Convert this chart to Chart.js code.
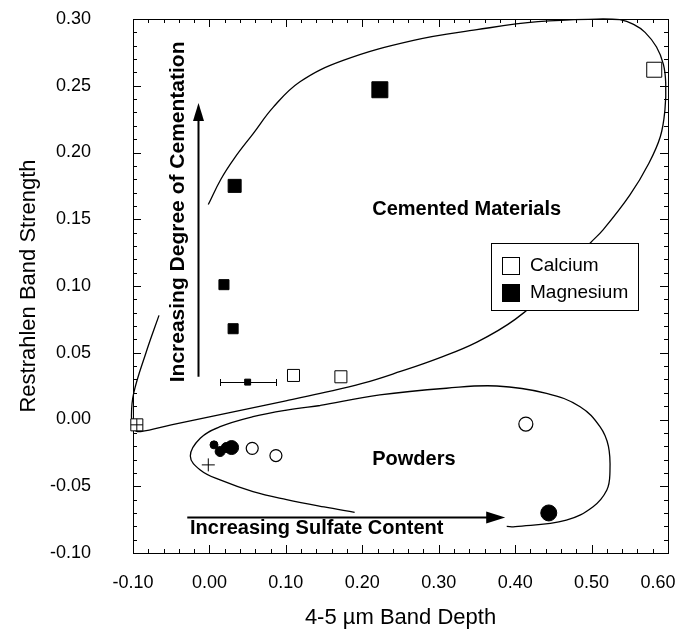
<!DOCTYPE html>
<html>
<head>
<meta charset="utf-8">
<script src="https://cdn.jsdelivr.net/npm/chart.js@4.4.0/dist/chart.umd.min.js"></script>
<style>
  html, body { margin: 0; padding: 0; background: #fff; }
  #wrap { width: 682px; height: 636px; }
</style>
</head>
<body>
<div id="wrap"><canvas id="myChart"></canvas></div>
<script>
var xTicks = [-0.10, 0.00, 0.10, 0.20, 0.30, 0.40, 0.50, 0.60];
var yTicks = [-0.10, -0.05, 0.00, 0.05, 0.10, 0.15, 0.20, 0.25, 0.30];

// cemented samples
var calciumX = [0.582, 0.110, 0.172, -0.095];
var calciumY = [0.262, 0.033, 0.032, -0.004];
var magnesiumX = [0.223, 0.033, 0.019, 0.031, 0.050];
var magnesiumY = [0.247, 0.175, 0.101, 0.068, 0.028];

// error bar on the small magnesium point
var errY = [0.028];
var errLow = [0.014];
var errHigh = [0.087];

// powders
var powderFilledX = [0.006, 0.014, 0.022, 0.029, 0.444];
var powderFilledY = [-0.019, -0.024, -0.021, -0.021, -0.070];
var powderOpenX = [0.056, 0.087, 0.414];
var powderOpenY = [-0.0216, -0.027, -0.0034];
var crossX = [-0.0015, -0.095];
var crossY = [-0.034, -0.004];

// envelope of cemented materials
var cementedX = [-0.066, -0.083, -0.099, -0.102, -0.099, -0.09, -0.05, 0.0, 0.05, 0.10, 0.145, 0.20, 0.25, 0.30, 0.35, 0.40, 0.45, 0.498, 0.515, 0.55, 0.575, 0.590, 0.596, 0.597, 0.594, 0.585, 0.570, 0.555, 0.537, 0.515, 0.43, 0.35, 0.267, 0.175, 0.1185, 0.0836, 0.057, 0.033, 0.015, -0.0015];
var cementedY = [0.078, 0.050, 0.020, 0.003, -0.007, -0.009, -0.004, 0.002, 0.008, 0.014, 0.0196, 0.027, 0.036, 0.046, 0.058, 0.075, 0.100, 0.132, 0.142, 0.168, 0.192, 0.212, 0.232, 0.252, 0.266, 0.279, 0.290, 0.296, 0.2995, 0.300, 0.298, 0.292, 0.284, 0.269, 0.253, 0.234, 0.214, 0.196, 0.180, 0.161];

// envelope of powders (gap where it runs under the arrow)
var powderEnvX = [0.145, 0.101, 0.057, 0.014, -0.012, -0.025, -0.012, 0.014, 0.057, 0.101, 0.15, 0.19, 0.20, 0.389, 0.40, 0.467, 0.502, 0.520, 0.524, 0.522, 0.511, 0.485, 0.441, 0.376, 0.310, 0.223, 0.145];
var powderEnvY = [0.0105, 0.0071, 0.0021, -0.0054, -0.014, -0.0273, -0.0378, -0.0453, -0.054, -0.060, -0.0655, -0.0695, null, -0.0800, -0.0803, -0.0753, -0.0653, -0.0528, -0.040, -0.020, -0.0054, 0.0096, 0.0196, 0.0251, 0.0234, 0.0184, 0.0105];

function pts(xs, ys) {
  return xs.map(function (x, i) { return { x: x, y: ys[i] }; });
}

var FONT = "'Liberation Sans', Arial, Helvetica, sans-serif";

var frameTicks = {
  id: 'frameTicks',
  beforeDatasetsDraw: function (chart) {
    var ctx = chart.ctx, a = chart.chartArea;
    var xs = chart.scales.x, ys = chart.scales.y;
    ctx.save();
    ctx.strokeStyle = '#000';
    ctx.lineWidth = 1;
    ctx.strokeRect(Math.round(a.left) + 0.5, Math.round(a.top) + 0.5, Math.round(a.right - a.left), Math.round(a.bottom - a.top));
    ctx.beginPath();
    for (var i = 0; i <= 35; i++) {
      var v = -0.1 + i * 0.02;
      var px = Math.round(xs.getPixelForValue(v)) + 0.5;
      var len = (i % 5 === 0) ? 8 : 4;
      ctx.moveTo(px, a.bottom); ctx.lineTo(px, a.bottom - len);
      ctx.moveTo(px, a.top); ctx.lineTo(px, a.top + len);
    }
    for (var j = 0; j <= 40; j++) {
      var w = -0.1 + j * 0.01;
      var py = Math.round(ys.getPixelForValue(w)) + 0.5;
      var l2 = (j % 5 === 0) ? 8 : 4;
      ctx.moveTo(a.left, py); ctx.lineTo(a.left + l2, py);
      ctx.moveTo(a.right, py); ctx.lineTo(a.right - l2, py);
    }
    ctx.stroke();
    ctx.restore();
  }
};

var notes = {
  id: 'notes',
  afterDatasetsDraw: function (chart) {
    var ctx = chart.ctx;
    var xs = chart.scales.x, ys = chart.scales.y;
    function X(v) { return xs.getPixelForValue(v); }
    function Y(v) { return ys.getPixelForValue(v); }
    ctx.save();
    ctx.strokeStyle = '#000';
    ctx.fillStyle = '#000';

    // error bar
    ctx.lineWidth = 1;
    ctx.beginPath();
    var ey = Math.round(Y(errY[0])) + 0.5;
    ctx.moveTo(X(errLow[0]), ey); ctx.lineTo(X(errHigh[0]), ey);
    ctx.moveTo(Math.round(X(errLow[0])) + 0.5, ey - 3.5); ctx.lineTo(Math.round(X(errLow[0])) + 0.5, ey + 3.5);
    ctx.moveTo(Math.round(X(errHigh[0])) + 0.5, ey - 3.5); ctx.lineTo(Math.round(X(errHigh[0])) + 0.5, ey + 3.5);
    ctx.stroke();

    // vertical arrow
    var ax = Math.round(X(-0.0146)) + 0.5;
    ctx.lineWidth = 2;
    ctx.beginPath();
    ctx.moveTo(ax, Y(0.032)); ctx.lineTo(ax, Y(0.237) + 16);
    ctx.stroke();
    ctx.beginPath();
    ctx.moveTo(ax, Y(0.237)); ctx.lineTo(ax - 5.5, Y(0.237) + 18); ctx.lineTo(ax + 5.5, Y(0.237) + 18);
    ctx.closePath(); ctx.fill();

    // horizontal arrow
    var hy = Math.round(Y(-0.0728)) + 0.5;
    ctx.beginPath();
    ctx.moveTo(X(-0.029), hy); ctx.lineTo(X(0.387) - 16, hy);
    ctx.stroke();
    ctx.beginPath();
    ctx.moveTo(X(0.387), hy); ctx.lineTo(X(0.387) - 19, hy - 6); ctx.lineTo(X(0.387) - 19, hy + 6);
    ctx.closePath(); ctx.fill();

    // labels
    ctx.font = 'bold 20px ' + FONT;
    ctx.textAlign = 'left';
    ctx.textBaseline = 'middle';
    ctx.fillText('Cemented Materials', X(0.213), Y(0.157));
    ctx.fillText('Powders', X(0.213), Y(-0.030));
    ctx.fillText('Increasing Sulfate Content', X(-0.0254), Y(-0.0818));
    ctx.textAlign = 'center';
    ctx.save();
    ctx.translate(X(-0.041), Y(0.1555));
    ctx.rotate(-Math.PI / 2);
    ctx.font = 'bold 21px ' + FONT;
    ctx.fillText('Increasing Degree of Cementation', 0, 0);
    ctx.restore();

    // legend box
    var bx = 491, by = 243, bw = 147, bh = 67;
    ctx.fillStyle = '#fff';
    ctx.fillRect(bx, by, bw, bh);
    ctx.lineWidth = 1;
    ctx.strokeRect(bx + 0.5, by + 0.5, bw, bh);
    ctx.strokeRect(502.5, 257.5, 17, 17);
    ctx.fillStyle = '#000';
    ctx.fillRect(502, 284, 18, 18);
    ctx.font = '19px ' + FONT;
    ctx.textAlign = 'left';
    ctx.fillText('Calcium', 530, 266);
    ctx.fillText('Magnesium', 530, 293);
    ctx.restore();
  }
};

new Chart('myChart', {
  type: 'scatter',
  data: {
    datasets: [
      {
        label: 'cross',
        data: pts(crossX, crossY),
        pointStyle: 'cross',
        pointRadius: [6.5, 6],
        borderColor: '#000',
        borderWidth: 1,
        clip: false
      },
      {
        label: 'Calcium',
        data: pts(calciumX, calciumY),
        pointStyle: 'rect',
        pointRadius: [10.6, 8.5, 8.5, 8.5],
        backgroundColor: '#fff',
        borderColor: '#000',
        borderWidth: 1,
        clip: false
      },
      {
        label: 'Magnesium',
        data: pts(magnesiumX, magnesiumY),
        pointStyle: 'rect',
        pointRadius: [11.3, 9.2, 7.1, 7.1, 4.2],
        backgroundColor: '#000',
        borderColor: '#000',
        borderWidth: 1
      },
      {
        label: 'powder filled',
        data: pts(powderFilledX, powderFilledY),
        pointStyle: 'circle',
        pointRadius: [4, 5, 5, 7, 8],
        backgroundColor: '#000',
        borderColor: '#000',
        borderWidth: 1
      },
      {
        label: 'powder open',
        data: pts(powderOpenX, powderOpenY),
        pointStyle: 'circle',
        pointRadius: [6, 6, 7],
        backgroundColor: '#fff',
        borderColor: '#000',
        borderWidth: 1.2
      },
      {
        label: 'cemented envelope',
        data: pts(cementedX, cementedY),
        showLine: true,
        tension: 0.4,
        spanGaps: false,
        pointRadius: 0,
        borderColor: '#000',
        borderWidth: 1.3,
        fill: false,
        clip: false
      },
      {
        label: 'powder envelope',
        data: pts(powderEnvX, powderEnvY),
        showLine: true,
        tension: 0.4,
        spanGaps: false,
        pointRadius: 0,
        borderColor: '#000',
        borderWidth: 1.3,
        fill: false
      }
    ]
  },
  options: {
    responsive: true,
    maintainAspectRatio: false,
    animation: false,
    layout: { padding: { left: 0, top: 19, right: 14, bottom: 0 } },
    plugins: {
      legend: { display: false },
      tooltip: { enabled: false }
    },
    scales: {
      x: {
        type: 'linear',
        min: -0.1,
        max: 0.6,
        grid: { display: false },
        border: { display: false },
        afterBuildTicks: function (s) { s.ticks = xTicks.map(function (v) { return { value: v }; }); },
        afterFit: function (s) { s.height = 83; s.paddingLeft = 0; s.paddingRight = 0; },
        ticks: {
          padding: 11,
          color: '#000',
          font: { family: FONT, size: 18 },
          maxRotation: 0,
          // last label is nudged left so it stays inside the page
          callback: function (v, i, all) { return i === all.length - 1 ? v.toFixed(2) + '    ' : v.toFixed(2); }
        },
        title: {
          display: true,
          text: '4-5 \u00b5m Band Depth',
          color: '#000',
          font: { family: FONT, size: 22 },
          padding: { top: 0, bottom: 5 }
        }
      },
      y: {
        type: 'linear',
        min: -0.1,
        max: 0.3,
        grid: { display: false },
        border: { display: false },
        afterBuildTicks: function (s) { s.ticks = yTicks.map(function (v) { return { value: v }; }); },
        afterFit: function (s) { s.width = 133; s.paddingTop = 0; s.paddingBottom = 0; },
        ticks: {
          padding: 34,
          color: '#000',
          font: { family: FONT, size: 18 },
          callback: function (v) { return v.toFixed(2); }
        },
        title: {
          display: true,
          text: 'Restrahlen Band Strength',
          color: '#000',
          font: { family: FONT, size: 22 },
          padding: { top: 16, bottom: 0 }
        }
      }
    }
  },
  plugins: [notes, frameTicks]
});
</script>
</body>
</html>
